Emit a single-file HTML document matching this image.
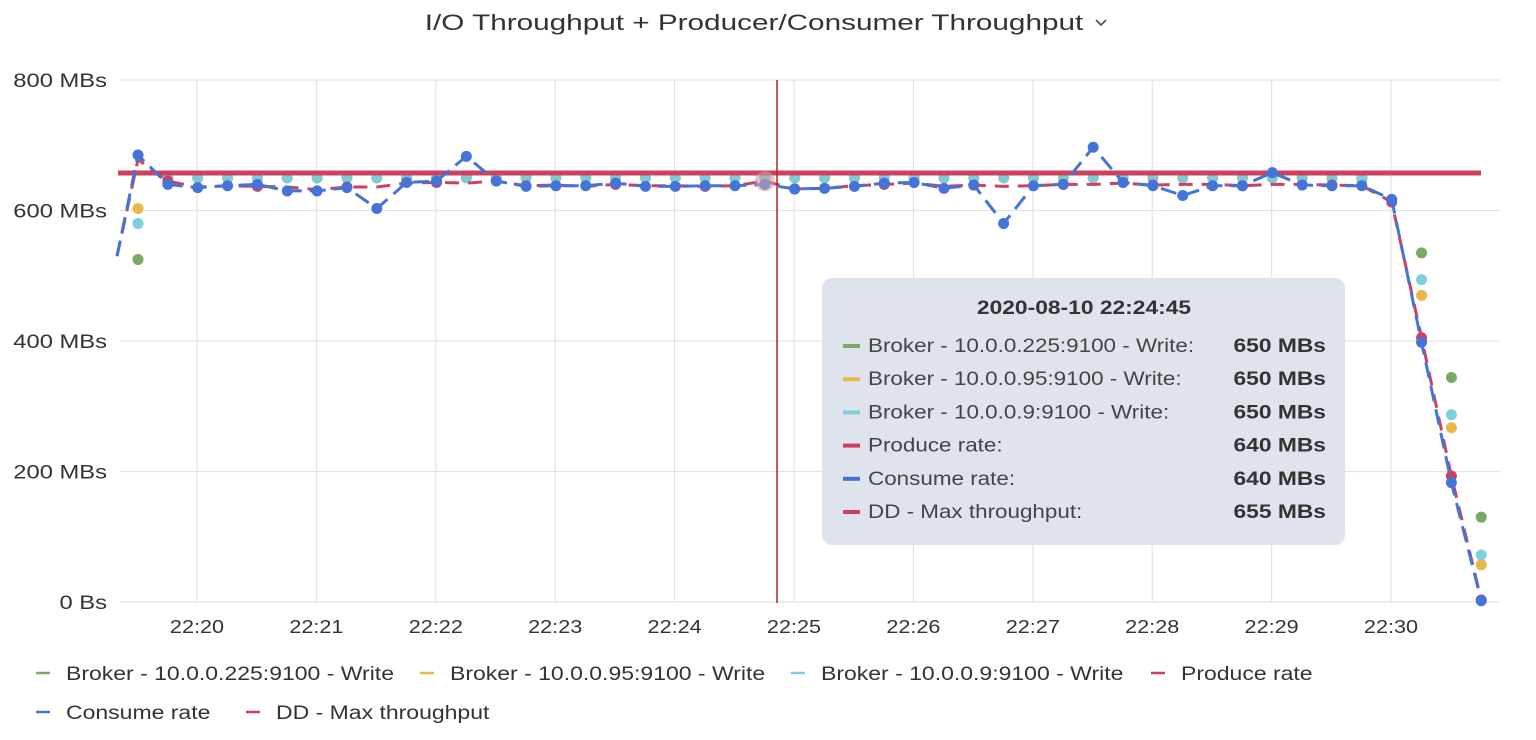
<!DOCTYPE html>
<html><head><meta charset="utf-8"><style>
html,body{margin:0;padding:0;background:#fff;width:1536px;height:740px;overflow:hidden;font-family:"Liberation Sans",sans-serif;}
svg text{font-family:"Liberation Sans",sans-serif;}
</style></head><body>
<svg id="s" width="1536" height="740" xmlns="http://www.w3.org/2000/svg">
<text class="w" data-f="1.35" x="754" y="30" font-size="22" fill="#333" text-anchor="middle">I/O Throughput + Producer/Consumer Throughput</text>
<path d="M1096 20 l5 5 l5 -5" stroke="#555" stroke-width="1.8" fill="none"/>
<g id="grid"></g>
<g id="data"></g>
<line x1="777" y1="80" x2="777" y2="603" stroke="#a8282e" stroke-width="1.5"/>
<g id="tip">
<rect x="822" y="278" width="523" height="267" rx="10" fill="#dfe4ec"/>
<text class="w" data-f="1.2" x="1084" y="314" font-size="19" font-weight="bold" fill="#333" text-anchor="middle">2020-08-10 22:24:45</text>
</g>
<g id="legend"></g>
</svg>
<script>
const ns="http://www.w3.org/2000/svg";
function el(p,t,a,txt){const e=document.createElementNS(ns,t);for(const k in a)e.setAttribute(k,a[k]);if(txt!==undefined)e.textContent=txt;document.getElementById(p).appendChild(e);return e;}
const Y=v=>602-v*0.6525, X=i=>138+i*29.85;
[0,200,400,600,800].forEach(v=>{el('grid','line',{x1:120,x2:1500,y1:Y(v),y2:Y(v),stroke:'#e3e3e3','stroke-width':1.2});
el('grid','text',{class:'w','data-f':1.25,x:107,y:Y(v)+7,'font-size':19,fill:'#333','text-anchor':'end'},v?v+' MBs':'0 Bs');});
const labs=['22:20','22:21','22:22','22:23','22:24','22:25','22:26','22:27','22:28','22:29','22:30'];
labs.forEach((l,i)=>{const x=197+i*119.4;el('grid','line',{x1:x,x2:x,y1:80,y2:602,stroke:'#e3e3e3','stroke-width':1.2});
el('grid','text',{class:'w','data-f':1.2,x:x,y:633,'font-size':18,fill:'#333','text-anchor':'middle'},l);});
const C={b:'#4574d9',r:'#cf405e',g:'#7aa865',y:'#e8b84a',c:'#7dcfe0'};
const cons=[685,640,635,638,640,630,630,635,603,643,645,683,645,637,638,638,642,637,637,638,638,640,633,634,637,642,643,634,639,580,638,640,697,643,638,623,638,638,658,639,638,638,617,398,183,2];
const prod=[678,645,636,638,637,636,632,636,636,642,643,642,645,638,639,637,640,638,638,637,638,645,633,634,638,640,642,637,639,637,638,640,640,642,639,640,640,638,640,640,639,638,613,405,193,3];
for(let i=1;i<42;i++){[['g',650],['c',650]].forEach(([k,v])=>el('data','circle',{cx:X(i),cy:Y(v),r:5.5,fill:C[k],opacity:.85}));}
[[0,525,603,580],[41,650,645,650],[43,535,470,494],[44,344,267,287],[45,130,57,72]].forEach(([i,g,y,c])=>{
el('data','circle',{cx:X(i),cy:Y(g),r:5.5,fill:C.g});el('data','circle',{cx:X(i),cy:Y(y),r:5.5,fill:C.y});el('data','circle',{cx:X(i),cy:Y(c),r:5.5,fill:C.c});});
el('data','line',{x1:118,x2:1481,y1:173,y2:173,stroke:C.r,'stroke-width':5});
function path(arr){let d='M117 '+Y(530);arr.forEach((v,i)=>d+=' L'+X(i)+' '+Y(v));return d;}
el('data','path',{d:path(prod),stroke:C.r,'stroke-width':3,fill:'none','stroke-dasharray':'14 9'});
prod.forEach((v,i)=>{if(i%3==1||i>41)el('data','circle',{cx:X(i),cy:Y(v),r:5.5,fill:C.r});});
el('data','path',{d:path(cons),stroke:C.b,'stroke-width':3,fill:'none','stroke-dasharray':'16 8'});
cons.forEach((v,i)=>el('data','circle',{cx:X(i),cy:Y(v),r:5.5,fill:C.b}));
el('data','circle',{cx:X(21),cy:Y(645),r:10,fill:'#c8a0a8',opacity:.6});
const rows=[['g','Broker - 10.0.0.225:9100 - Write:','650 MBs'],['y','Broker - 10.0.0.95:9100 - Write:','650 MBs'],['c','Broker - 10.0.0.9:9100 - Write:','650 MBs'],['r','Produce rate:','640 MBs'],['b','Consume rate:','640 MBs'],['r','DD - Max throughput:','655 MBs']];
rows.forEach((r,i)=>{const y=352+i*33.2;el('tip','rect',{x:843,y:y-8,width:17,height:4,fill:C[r[0]]});
el('tip','text',{class:'w','data-f':1.18,x:868,y:y,'font-size':19,fill:'#444'},r[1]);
el('tip','text',{class:'w','data-f':1.2,x:1326,y:y,'font-size':19,'font-weight':'bold',fill:'#333','text-anchor':'end'},r[2]);});
const L=[[36,673,'g','Broker - 10.0.0.225:9100 - Write'],[420,673,'y','Broker - 10.0.0.95:9100 - Write'],[791,673,'c','Broker - 10.0.0.9:9100 - Write'],[1151,673,'r','Produce rate'],[36,712,'b','Consume rate'],[246,712,'r','DD - Max throughput']];
L.forEach(([x,y,k,t])=>{el('legend','line',{x1:x,x2:x+14,y1:y,y2:y,stroke:C[k],'stroke-width':2.5});
el('legend','text',{class:'w','data-f':1.21,x:x+30,y:y+7,'font-size':19,fill:'#333'},t);});
document.querySelectorAll('text.w').forEach(t=>{const w=t.getComputedTextLength();t.setAttribute('textLength',(w*parseFloat(t.getAttribute('data-f'))).toFixed(1));t.setAttribute('lengthAdjust','spacingAndGlyphs');});
</script>
</body></html>
